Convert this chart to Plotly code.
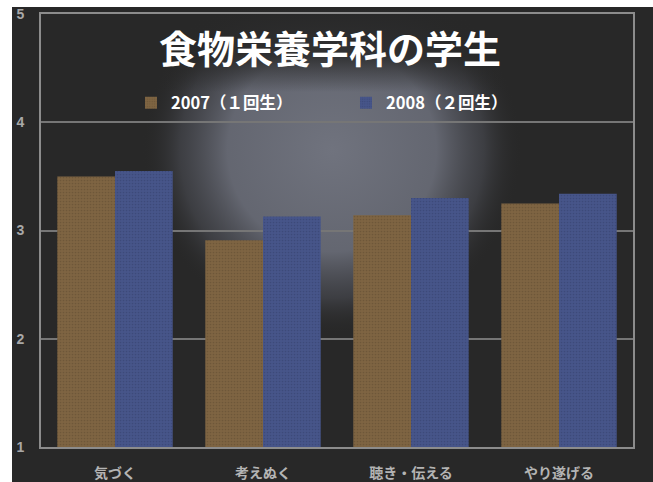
import base64
import plotly.graph_objects as go

categories = ["気づく", "考えぬく", "聴き・伝える", "やり遂げる"]
series_2007 = [3.50, 2.91, 3.14, 3.25]
series_2008 = [3.55, 3.13, 3.30, 3.34]
series_names = ["2007（１回生）", "2008（２回生）"]
title_text = "食物栄養学科の学生"
y_ticks = [1, 2, 3, 4, 5]

W, H = 653, 482
L, R, T, B = 41, 20, 14, 35
pw, ph = W - L - R, H - T - B

svg = f'''<svg xmlns="http://www.w3.org/2000/svg" width="{W}" height="{H}" viewBox="0 0 {W} {H}" preserveAspectRatio="none">
<defs>
<radialGradient id="g" cx="332" cy="150" r="1" gradientUnits="userSpaceOnUse" gradientTransform="translate(332 150) scale(190 185) translate(-332 -150)">
<stop offset="0" stop-color="#70737e" stop-opacity="1"/>
<stop offset="0.55" stop-color="#696c77" stop-opacity="0.92"/>
<stop offset="0.8" stop-color="#4e5058" stop-opacity="0.55"/>
<stop offset="1" stop-color="#282828" stop-opacity="0"/>
</radialGradient>
<linearGradient id="top" x1="0" y1="0" x2="0" y2="1">
<stop offset="0" stop-color="#282828" stop-opacity="1"/>
<stop offset="0.6" stop-color="#282828" stop-opacity="0.85"/>
<stop offset="1" stop-color="#282828" stop-opacity="0"/>
</linearGradient>
</defs>
<rect x="0" y="0" width="{W}" height="{H}" fill="#282828"/>
<rect x="0" y="0" width="{W}" height="{H}" fill="url(#g)"/>
<rect x="0" y="0" width="{W}" height="92" fill="url(#top)"/>
</svg>'''
src = "data:image/svg+xml;base64," + base64.b64encode(svg.encode()).decode()

fig = go.Figure()
fig.add_trace(go.Bar(x=categories, y=series_2007, name=series_names[0], base=0,
                     marker=dict(color="#7e6442", line=dict(width=0),
                                 pattern=dict(shape=".", size=3, solidity=0.25,
                                              fgcolor="#5e4a30", fgopacity=0.5))))
fig.add_trace(go.Bar(x=categories, y=series_2008, name=series_names[1], base=0,
                     marker=dict(color="#465589", line=dict(width=0),
                                 pattern=dict(shape=".", size=3, solidity=0.25,
                                              fgcolor="#33406a", fgopacity=0.5))))

fig.add_layout_image(dict(source=src, xref="paper", yref="paper",
                          x=-L / pw, y=1 + T / ph, sizex=W / pw, sizey=H / ph,
                          xanchor="left", yanchor="top", sizing="stretch", layer="below"))

# white page border strips around the dark chart card
fig.add_shape(type="rect", xref="paper", yref="paper", layer="above",
              x0=-L / pw - 0.01, x1=(12 - L) / pw, y0=-B / ph - 0.01, y1=1 + T / ph + 0.01,
              fillcolor="#ffffff", line=dict(width=0))
fig.add_shape(type="rect", xref="paper", yref="paper", layer="above",
              x0=-L / pw - 0.01, x1=1 + R / pw + 0.01, y0=(447 - 7) / ph, y1=1 + T / ph + 0.01,
              fillcolor="#ffffff", line=dict(width=0))

fig.update_layout(
    width=W, height=H,
    margin=dict(l=L, r=R, t=T, b=B, autoexpand=False),
    paper_bgcolor="#282828", plot_bgcolor="rgba(0,0,0,0)",
    barmode="group", bargap=0.22, bargroupgap=0,
    font=dict(family="Noto Sans CJK JP, Liberation Sans, sans-serif"),
    title=dict(text=title_text, x=(330 - L) / pw, xanchor="center", xref="paper",
               y=(H - 50) / H, yanchor="middle",
               font=dict(size=38, color="#ffffff", weight="bold")),
    legend=dict(orientation="h", x=(131 - L) / pw, xanchor="left",
                y=(447 - 103) / ph, yanchor="middle",
                font=dict(size=16.5, color="#ffffff", weight="bold"),
                bgcolor="rgba(0,0,0,0)", entrywidth=170, itemwidth=30),
    showlegend=True,
)
fig.update_xaxes(showline=True, mirror=True, linecolor="#8c8c8c", linewidth=2,
                 showgrid=False, ticks="", range=[-0.5, 3.5], automargin=False,
                 tickfont=dict(size=14, color="#b4b4b4", weight="bold"),
                 ticklabelstandoff=12)
fig.update_yaxes(range=[1, 5], tickvals=y_ticks, showline=True, mirror=True,
                 linecolor="#8c8c8c", linewidth=2, showgrid=True, automargin=False,
                 gridcolor="#767676", gridwidth=1.5, zeroline=False, ticks="",
                 tickfont=dict(size=14, color="#a8a8a8", weight="bold",
                               family="Liberation Sans, Arial, sans-serif"),
                 ticklabelstandoff=12)

fig.write_html("out.html")
